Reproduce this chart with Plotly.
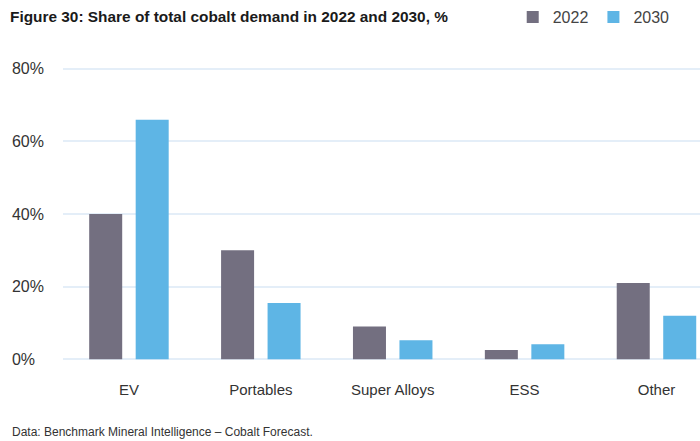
import plotly.graph_objects as go

# Cobalt demand share by end use
categories = ["EV", "Portables", "Super Alloys", "ESS", "Other"]
share_2022 = [40, 30, 9, 2.5, 21]
share_2030 = [66, 15.5, 5.2, 4.1, 12]
y_tick_values = [0, 20, 40, 60, 80]
# figure space pads the shorter label so the column reads left-aligned
y_tick_text = ["0%\u2007", "20%", "40%", "60%", "80%"]

COLOR_2022 = "#736f80"
COLOR_2030 = "#5eb5e5"
GRID = "#e4eef8"
TEXT = "#333333"
FONT = "Liberation Sans, Arial, sans-serif"

fig = go.Figure()
fig.add_trace(go.Bar(name="2022", x=categories, y=share_2022,
                     marker=dict(color=COLOR_2022, line=dict(width=0))))
fig.add_trace(go.Bar(name="2030", x=categories, y=share_2030,
                     marker=dict(color=COLOR_2030, line=dict(width=0))))

fig.update_layout(
    width=700, height=441,
    margin=dict(l=63, r=0, t=67, b=80),
    paper_bgcolor="white", plot_bgcolor="white",
    font=dict(family=FONT, color=TEXT),
    barmode="group", bargap=0.295, bargroupgap=0.29,
    showlegend=True,
    title=dict(
        text="<b>Figure 30: Share of total cobalt demand in 2022 and 2030, %</b>",
        xref="container", x=10 / 700, xanchor="left",
        yref="container", y=1 - 17 / 441, yanchor="middle",
        font=dict(family=FONT, size=15.4, color="#1a1a1a"),
    ),
    legend=dict(
        orientation="h", xref="paper", yref="paper",
        x=0.706, xanchor="left", y=1.17, yanchor="middle",
        font=dict(size=16, color="#444444"),
        bgcolor="rgba(0,0,0,0)", itemclick=False,
    ),
    xaxis=dict(
        type="category", range=[-0.5, 4.33],
        showgrid=False, showline=False, zeroline=False, ticks="",
        tickfont=dict(size=15, color=TEXT), ticklabelstandoff=18,
    ),
    yaxis=dict(
        range=[-0.5, 80.5], tickvals=y_tick_values, ticktext=y_tick_text,
        showgrid=True, gridcolor=GRID, gridwidth=1.5,
        zeroline=False, showline=False, ticks="",
        tickfont=dict(size=16, color=TEXT), ticklabelstandoff=18,
    ),
)

fig.add_annotation(
    text="Data: Benchmark Mineral Intelligence \u2013 Cobalt Forecast.",
    xref="paper", yref="paper",
    x=(10 - 63) / 637, xanchor="left",
    y=(361 - 441) / 294, yanchor="bottom",
    showarrow=False, font=dict(family=FONT, size=12, color=TEXT),
)

fig.write_html("out.html")
